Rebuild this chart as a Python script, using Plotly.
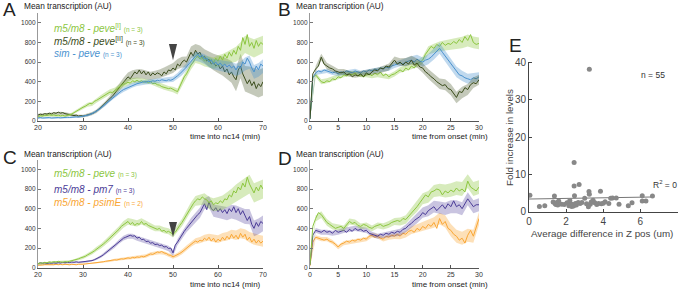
import plotly.graph_objects as go

# ---------------- DATA ----------------
# Panels A / C: time into nc14 (min), 0.5-min steps; SEM at 1-min steps
t_nc14 = [20 + 0.5 * i for i in range(101)]
t_nc14_sem = [20 + i for i in range(51)]
# Panels B / D: time from onset (min)
t_onset = [0.5 * i for i in range(61)]
t_onset_sem = [i for i in range(31)]

# Panel A
A_peveI = [40,55,50,60,55,65,58,62,55,60,52,58,50,55,60,70,85,100,110,130,
           140,150,165,180,175,200,210,225,240,255,270,280,295,290,310,330,345,360,375,380,
           395,385,410,400,415,400,410,395,405,390,400,380,385,370,365,350,345,340,330,335,
           320,310,300,350,400,450,480,530,570,600,640,660,630,650,610,640,600,630,590,640,
           610,660,620,680,640,700,660,720,680,760,720,850,780,880,760,800,740,820,760,800,780]
A_peveII = [60,70,65,75,70,80,72,85,78,90,80,85,75,70,65,60,55,60,50,55,
            50,55,60,65,75,85,100,120,140,160,180,200,230,250,280,310,340,370,400,420,
            450,430,470,500,480,520,480,510,470,500,460,490,470,490,480,460,500,480,520,510,
            540,520,580,560,600,620,600,650,700,660,720,680,700,640,660,610,630,580,600,560,
            580,530,560,500,530,470,500,450,420,520,560,480,430,380,420,360,400,330,380,350,400]
A_sim = [30,35,30,32,28,35,30,33,30,35,32,36,34,38,36,40,38,42,40,45,
         45,50,55,65,75,85,100,115,135,150,170,190,215,235,255,275,290,305,320,330,
         345,350,365,370,380,385,390,400,395,405,400,410,405,415,410,420,415,410,420,415,
         425,440,460,480,500,520,550,580,610,640,660,680,650,670,630,640,600,620,580,600,
         570,590,560,580,550,570,540,560,520,560,540,600,580,640,600,540,500,560,520,580,560]
A_peveI_sem = [12,12,12,12,12,12,12,12,14,16,18,20,22,24,26,26,28,28,30,30,30,28,28,26,26,26,
               28,28,26,26,28,30,34,40,46,50,52,54,56,58,60,62,66,70,76,82,88,90,92,90,88]
A_peveII_sem = [15,15,15,15,15,15,15,15,14,14,14,15,16,18,20,24,28,32,36,40,44,46,46,46,44,42,
                42,44,46,48,50,52,54,56,60,64,68,72,78,84,90,96,104,110,118,124,130,136,140,140,140]
A_sim_sem = [8,8,8,8,8,8,8,8,8,8,8,9,10,12,14,16,18,20,22,24,24,24,24,24,24,24,24,24,24,26,
             28,30,34,38,42,46,48,50,52,52,54,56,58,60,62,64,66,68,70,70,70]

# Panel B
B_peveI = [30,440,470,440,400,390,410,400,430,420,450,440,470,460,480,470,490,460,470,450,
           470,480,460,490,470,500,460,480,450,470,480,500,520,500,540,520,560,540,580,600,
           620,680,720,760,740,780,760,800,770,790,780,810,790,830,800,860,820,880,800,780,790]
B_peveII = [20,480,530,560,650,580,560,540,530,510,500,490,500,470,480,450,470,460,480,450,
            490,470,500,520,510,540,530,560,550,580,620,580,600,570,600,580,620,570,590,550,
            540,500,480,450,430,400,380,360,370,330,320,280,240,300,290,340,320,370,390,380,420]
B_sim = [20,440,490,510,500,520,510,500,490,500,480,500,490,510,500,490,510,500,490,510,
         500,520,510,530,520,540,530,550,540,560,570,580,590,580,600,610,620,600,630,610,
         600,620,630,650,680,720,740,700,660,620,580,540,500,470,460,440,430,420,440,430,450]
B_peveI_sem = [10,25,25,25,25,25,25,25,25,25,25,25,25,25,25,26,28,30,32,34,38,42,46,50,52,54,56,58,60,60,60]
B_peveII_sem = [10,30,34,34,32,30,30,30,30,30,30,30,32,34,36,38,40,42,44,46,48,50,52,54,56,58,58,58,56,54,52]
B_sim_sem = [10,22,22,22,22,22,22,22,22,22,22,22,24,26,28,30,32,36,40,44,48,52,54,56,56,56,54,52,50,48,46]

# Panel C
C_peve = [40,50,45,55,50,60,55,62,58,65,60,55,62,58,65,70,75,80,90,100,
          105,115,130,140,155,170,190,205,220,240,260,280,300,320,340,360,390,420,440,460,
          470,440,460,430,450,440,470,440,450,430,420,410,400,390,400,370,380,360,370,350,
          340,360,400,430,460,500,540,580,620,650,680,700,690,720,700,690,660,680,640,660,
          650,680,660,700,690,740,720,780,760,820,790,860,820,920,850,800,760,820,780,840,800]
C_pm7 = [40,50,45,50,42,48,45,50,46,52,48,55,50,55,52,58,55,60,55,58,
         55,60,62,68,72,80,90,100,115,130,150,170,185,200,220,245,265,285,300,310,
         320,330,320,325,300,310,285,290,265,270,250,255,235,240,225,230,210,215,195,200,
         150,230,260,300,330,370,400,430,460,480,510,540,560,600,650,590,670,600,580,610,
         570,600,560,590,550,600,570,620,560,600,540,580,520,480,520,440,400,460,420,470,450]
C_psimE = [25,30,28,32,30,28,32,30,35,30,33,30,35,32,30,35,32,30,35,33,
           35,38,40,42,45,48,50,55,58,60,65,70,68,75,80,78,85,90,88,95,
           100,95,105,100,110,105,115,110,120,130,140,135,150,160,155,165,150,145,130,125,
           110,120,130,145,160,180,200,220,240,255,270,260,280,270,300,280,310,270,300,260,
           290,270,310,280,320,290,340,300,330,290,350,310,340,280,310,260,290,250,280,250,270]
C_peve_sem = [10,10,10,10,10,10,10,10,12,14,16,18,20,22,24,26,28,30,32,34,34,34,32,32,30,30,
              30,30,30,30,32,34,38,42,46,50,54,58,62,66,70,74,78,82,86,90,94,96,98,98,96]
C_pm7_sem = [8,8,8,8,8,8,8,8,8,8,8,9,10,12,14,16,18,20,22,24,26,26,26,26,26,26,26,26,26,28,
             30,32,36,40,44,48,52,56,60,62,64,66,68,70,72,74,76,78,80,80,80]
C_psimE_sem = [6,6,6,6,6,6,6,6,6,6,6,6,6,7,8,9,10,11,12,13,14,15,16,17,18,18,18,18,18,18,
               20,22,24,26,28,30,32,34,36,38,40,42,44,46,48,50,52,54,56,56,56]

# Panel D
D_peve = [30,420,500,560,540,500,460,440,420,400,410,420,400,440,470,450,460,430,420,440,
          430,410,400,420,430,440,420,430,440,460,470,480,470,500,490,520,560,580,620,660,
          700,740,720,770,780,800,790,740,780,760,790,770,810,780,800,770,880,820,800,780,820]
D_pm7 = [30,330,380,370,360,380,360,370,350,380,360,370,380,360,390,370,400,380,390,370,
         380,350,340,330,320,340,330,350,340,360,350,370,360,390,400,430,450,480,500,520,
         560,540,580,600,620,580,610,640,600,650,620,680,620,640,600,650,700,660,620,640,640]
D_psimE = [20,260,310,300,290,280,290,270,260,240,210,240,250,270,260,280,270,290,280,300,
           290,320,330,310,320,300,290,320,310,330,320,340,320,350,340,370,380,360,400,380,
           420,400,440,420,460,400,500,440,470,400,380,340,320,280,300,250,330,380,320,420,500]
D_peve_sem = [10,30,34,34,32,30,30,30,30,30,30,30,30,32,34,36,40,44,48,52,56,60,62,64,66,68,70,70,70,70,70]
D_pm7_sem = [8,24,26,26,26,26,26,26,26,26,26,26,26,28,30,32,36,40,44,48,52,56,60,62,64,66,66,66,66,66,66]
D_psimE_sem = [6,20,22,22,22,22,22,22,22,22,22,22,22,24,26,28,30,34,38,42,46,50,54,58,62,64,66,66,66,66,66]

# Panel E scatter (n = 55)
E_zdiff = [0.05,0.56,0.85,1.37,1.30,1.40,1.45,1.50,1.55,1.75,1.90,2.05,2.15,2.25,2.30,2.35,2.40,
           2.43,2.43,2.45,2.50,2.55,2.65,2.70,2.75,2.85,3.00,3.10,3.25,3.23,3.25,3.30,3.20,3.35,
           3.55,3.65,3.75,3.85,3.90,4.00,4.30,4.40,4.50,4.70,4.85,5.35,5.55,6.10,6.10,6.30,6.65,
           1.60,2.20,3.45,4.10]
E_fold = [4.4,1.4,1.6,4.2,2.6,2.2,1.9,2.5,1.8,2.0,1.9,2.4,1.6,2.1,1.4,1.9,1.5,
          13.2,6.9,4.3,2.2,1.8,2.5,7.3,2.2,2.5,3.6,2.1,38.2,5.4,4.7,2.0,1.3,2.6,
          2.4,1.9,2.2,5.5,2.1,2.3,2.2,3.6,3.7,3.7,2.0,1.6,2.4,4.3,2.9,2.9,4.2,
          2.9,3.0,3.1,2.7]
E_fit_x = [0.0, 6.7]
E_fit_y = [3.4, 3.95]

# ---------------- STYLE ----------------
LG = "#8cc63f"; LG_F = "rgba(140,198,63,0.35)"
DG = "#3b4d1c"; DG_F = "rgba(59,77,28,0.30)"
BL = "#4a92cf"; BL_F = "rgba(74,146,207,0.35)"
PU = "#4b3c97"; PU_F = "rgba(75,60,151,0.30)"
OR = "#f9a634"; OR_F = "rgba(249,166,52,0.35)"
FONT = "Liberation Sans, Arial, sans-serif"

fig = go.Figure()


def add_series(t, y, ts, sem, color, fill, xa, ya):
    yb = y[::2]
    up = [m + s for m, s in zip(yb, sem)]
    lo = [m - s for m, s in zip(yb, sem)]
    fig.add_trace(go.Scatter(x=list(ts) + list(ts)[::-1], y=up + lo[::-1], fill="toself",
                             fillcolor=fill, line=dict(width=0), mode="lines",
                             hoverinfo="skip", xaxis=xa, yaxis=ya))
    fig.add_trace(go.Scatter(x=t, y=y, mode="lines", line=dict(color=color, width=1),
                             xaxis=xa, yaxis=ya))


add_series(t_nc14, A_peveII, t_nc14_sem, A_peveII_sem, DG, DG_F, "x", "y")
add_series(t_nc14, A_peveI, t_nc14_sem, A_peveI_sem, LG, LG_F, "x", "y")
add_series(t_nc14, A_sim, t_nc14_sem, A_sim_sem, BL, BL_F, "x", "y")

add_series(t_onset, B_peveI, t_onset_sem, B_peveI_sem, LG, LG_F, "x2", "y2")
add_series(t_onset, B_sim, t_onset_sem, B_sim_sem, BL, BL_F, "x2", "y2")
add_series(t_onset, B_peveII, t_onset_sem, B_peveII_sem, DG, DG_F, "x2", "y2")

add_series(t_nc14, C_psimE, t_nc14_sem, C_psimE_sem, OR, OR_F, "x3", "y3")
add_series(t_nc14, C_pm7, t_nc14_sem, C_pm7_sem, PU, PU_F, "x3", "y3")
add_series(t_nc14, C_peve, t_nc14_sem, C_peve_sem, LG, LG_F, "x3", "y3")

add_series(t_onset, D_psimE, t_onset_sem, D_psimE_sem, OR, OR_F, "x4", "y4")
add_series(t_onset, D_pm7, t_onset_sem, D_pm7_sem, PU, PU_F, "x4", "y4")
add_series(t_onset, D_peve, t_onset_sem, D_peve_sem, LG, LG_F, "x4", "y4")

fig.add_trace(go.Scatter(x=E_fit_x, y=E_fit_y, mode="lines", line=dict(color="#777", width=1),
                         xaxis="x5", yaxis="y5"))
fig.add_trace(go.Scatter(x=E_zdiff, y=E_fold, mode="markers",
                         marker=dict(color="#888888", size=5, line=dict(width=0)),
                         xaxis="x5", yaxis="y5"))

W, H = 680, 290


def px_x(p):
    return p / W


def px_y(p):
    return 1 - p / H


def xax(dom, rng, tv, anchor):
    return dict(domain=dom, range=rng, tickvals=tv, showline=True, linecolor="#555",
                linewidth=1, ticks="inside", ticklen=3, tickcolor="#555", showgrid=False,
                zeroline=False, anchor=anchor, automargin=False,
                tickfont=dict(size=7, color="#333", family=FONT))


def yax(dom, anchor):
    return dict(domain=dom, range=[0, 1100], tickvals=[0, 200, 400, 600, 800, 1000],
                showline=True, linecolor="#999", linewidth=1.3, ticks="inside", ticklen=3,
                tickcolor="#777", showgrid=False, zeroline=False, anchor=anchor,
                automargin=False, tickfont=dict(size=6.5, color="#333", family=FONT))


dxA = [px_x(38), px_x(263)]
dxB = [px_x(310), px_x(479)]
dyAB = [px_y(121), px_y(13)]
dyCD = [px_y(267.7), px_y(159.5)]

fig.update_layout(
    width=W, height=H, margin=dict(l=0, r=0, t=0, b=0, autoexpand=False),
    paper_bgcolor="white", plot_bgcolor="white", showlegend=False,
    font=dict(family=FONT),
    xaxis=xax(dxA, [20, 70], [20, 30, 40, 50, 60, 70], "y"),
    yaxis=yax(dyAB, "x"),
    xaxis2=xax(dxB, [0, 30], [0, 5, 10, 15, 20, 25, 30], "y2"),
    yaxis2=yax(dyAB, "x2"),
    xaxis3=xax(dxA, [20, 70], [20, 30, 40, 50, 60, 70], "y3"),
    yaxis3=yax(dyCD, "x3"),
    xaxis4=xax(dxB, [0, 30], [0, 5, 10, 15, 20, 25, 30], "y4"),
    yaxis4=yax(dyCD, "x4"),
    xaxis5=dict(domain=[px_x(529), px_x(677.5)], range=[0, 8], tickvals=[0, 2, 4, 6, 8],
                showline=True, linecolor="#444", linewidth=1, ticks="inside", ticklen=3,
                tickcolor="#444", showgrid=False, zeroline=False, anchor="y5", automargin=False,
                tickfont=dict(size=10, color="#444", family=FONT)),
    yaxis5=dict(domain=[px_y(211.7), px_y(61.5)], range=[0, 40.3], tickvals=[0, 10, 20, 30, 40],
                showline=True, linecolor="#444", linewidth=1, ticks="inside", ticklen=3,
                tickcolor="#444", showgrid=False, zeroline=False, anchor="x5", automargin=False,
                tickfont=dict(size=10, color="#444", family=FONT)),
)

# arrowheads (marking t = 50 min)
fig.add_shape(type="path", path="M 49.1,783 L 50.9,783 L 50,620 Z", xref="x", yref="y",
              fillcolor="#444", line=dict(width=0))
fig.add_shape(type="path", path="M 49.1,464 L 50.9,464 L 50,312 Z", xref="x3", yref="y3",
              fillcolor="#444", line=dict(width=0))

ann = []


def text(x, y, s, size, color="#222", xanchor="left", yanchor="middle", angle=0):
    ann.append(dict(x=px_x(x), y=px_y(y), xref="paper", yref="paper", text=s, showarrow=False,
                    xanchor=xanchor, yanchor=yanchor, textangle=angle,
                    font=dict(size=size, color=color, family=FONT)))


# panel letters
text(1, 10, "A", 19)
text(276, 10, "B", 19)
text(1, 157, "C", 19)
text(276, 158, "D", 19)
text(507, 46, "E", 19)

# y titles
for (x, y) in [(22, 6), (294, 6), (22, 154), (294, 154)]:
    text(x, y, "Mean transcription (AU)", 8.3)

# x titles
text(263, 137, "time into nc14 (min)", 8, xanchor="right")
text(490, 137, "time from onset (min)", 8, xanchor="right")
text(263, 284, "time into nc14 (min)", 8, xanchor="right")
text(490, 284, "time from onset (min)", 8, xanchor="right")


def leg(main, sup, n):
    s = "<i>" + main + "</i>"
    if sup:
        s += "<sup>" + sup + "</sup>"
    s += " <span style='font-size:6.5px'>(n = " + n + ")</span>"
    return s


text(52, 27.5, leg("m5/m8 - peve", "[I]", "3"), 10, LG)
text(52, 40.5, leg("m5/m8 - peve", "[II]", "3"), 10, DG)
text(52, 53.3, leg("sim - peve", "", "3"), 10, BL)
text(52, 173.3, leg("m5/m8 - peve", "", "3"), 10, LG)
text(52, 189.3, leg("m5/m8 - pm7", "", "3"), 10, PU)
text(52, 202.7, leg("m5/m8 - psimE", "", "2"), 10, OR)

# panel E texts
text(509, 138, "Fold increase in levels", 9.8, "#444", xanchor="center", angle=-90)
text(602, 233, "Average difference in Z pos (um)", 9.8, "#444", xanchor="center")
text(653, 75, "n = 55", 8.5, "#333", xanchor="center")
text(665, 184, "R<sup>2</sup> = 0", 8.5, "#333", xanchor="center")

fig.update_layout(annotations=ann)
fig.write_html("out.html", config={"displayModeBar": False},
               post_script="document.body.style.margin='0px';document.body.style.overflow='hidden';")
